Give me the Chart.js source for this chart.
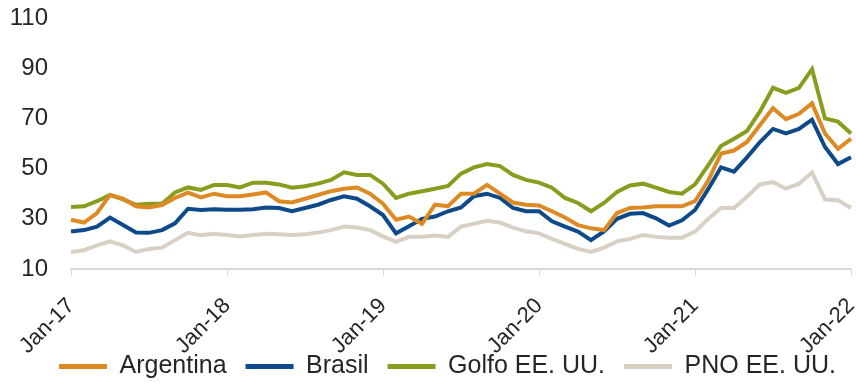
<!DOCTYPE html>
<html>
<head>
<meta charset="utf-8">
<script src="https://cdn.jsdelivr.net/npm/chart.js@4"></script>
<style>
  body { margin: 0; background: #fff; }
  #wrap { width: 856px; height: 389px; }
</style>
</head>
<body>
<div id="wrap"><canvas id="chart"></canvas></div>
<script>
// monthly categories Jan-17 .. Jan-22
var monthNames = ["Jan", "Feb", "Mar", "Apr", "May", "Jun", "Jul", "Aug", "Sep", "Oct", "Nov", "Dec"];
var years = ["17", "18", "19", "20", "21", "22"];
var labels = [];
years.forEach(function(yy){
    monthNames.forEach(function(mm){
        if (labels.length < 61) labels.push(mm + "-" + yy);
    });
});

var argentina = [29.6, 28.5, 32.3, 39.5, 38.0, 35.0, 34.5, 35.5, 38.3, 40.4, 38.5, 40.0,
                 39.0, 39.0, 39.7, 40.5, 37.0, 36.5, 38.0, 39.5, 41.0, 42.0, 42.5, 40.0,
                 36.0, 29.6, 30.9, 28.0, 35.6, 35.0, 40.0, 40.0, 43.5, 40.0, 36.5, 35.6,
                 35.3, 33.0, 30.5, 27.5, 26.2, 25.5, 32.3, 34.3, 34.5, 35.0, 35.0, 35.0,
                 37.0, 45.0, 56.0, 57.2, 60.6, 67.4, 74.1, 69.7, 71.8, 76.0, 64.0, 57.9,
                 61.9];
var brasil = [24.9, 25.5, 26.9, 30.5, 27.5, 24.5, 24.4, 25.5, 28.2, 34.0, 33.5, 33.8,
              33.6, 33.6, 33.8, 34.5, 34.3, 33.0, 34.3, 35.6, 37.5, 39.0, 38.0, 35.0,
              31.5, 24.2, 27.0, 30.0, 30.9, 33.0, 34.5, 39.0, 40.0, 38.3, 34.3, 33.0,
              33.0, 29.0, 26.9, 24.9, 21.5, 25.0, 30.0, 32.0, 32.3, 30.2, 27.3, 29.4,
              33.5, 41.7, 50.5, 48.8, 54.5, 60.6, 65.8, 64.0, 65.8, 69.5, 58.6, 51.8,
              54.5];
var golfo = [34.7, 35.0, 37.0, 39.5, 37.7, 35.6, 36.0, 36.0, 40.5, 42.5, 41.5, 43.5,
             43.5, 42.5, 44.4, 44.4, 43.7, 42.4, 43.0, 44.0, 45.5, 48.5, 47.5, 47.5,
             44.0, 38.3, 40.0, 41.0, 42.0, 43.1, 48.0, 50.5, 51.8, 51.0, 47.5, 45.5,
             44.4, 42.4, 38.3, 36.3, 33.0, 36.3, 40.7, 43.3, 44.0, 42.4, 40.7, 40.0,
             43.7, 51.2, 59.0, 61.9, 65.0, 72.8, 82.2, 80.2, 82.2, 89.6, 70.0, 68.7,
             64.0];
var pno = [16.8, 17.5, 19.4, 21.0, 19.4, 16.8, 18.0, 18.5, 21.5, 24.4, 23.5, 24.0,
           23.5, 23.0, 23.5, 24.0, 23.8, 23.5, 23.8, 24.5, 25.5, 26.9, 26.5, 25.5,
           23.0, 20.8, 22.8, 22.8, 23.3, 22.8, 26.9, 28.0, 29.2, 28.5, 26.5, 25.0,
           24.2, 22.0, 20.0, 18.0, 16.8, 18.5, 21.0, 22.0, 23.5, 22.8, 22.5, 22.5,
           24.9, 29.9, 34.3, 34.3, 38.8, 43.7, 44.6, 42.0, 44.0, 48.5, 37.7, 37.4,
           34.3];

var seriesNames = ["Argentina", "Brasil", "Golfo EE. UU.", "PNO EE. UU."];
var seriesColors = ["#DD8A24", "#0E4A8A", "#8A9C1E", "#D9D0C4"];
var seriesData = [argentina, brasil, golfo, pno];

var font = "Arial, 'Liberation Sans', sans-serif";

function noClip(){ return undefined; }

// the legend sits a little right of centre in the original
var legendShift = {
    id: "legendShift",
    afterLayout: function(chart){
        chart.legend.left += 22;
        chart.legend.right += 22;
    }
};

function getPriceChart(ctx){
    var datasets = seriesData.map(function(d, i){
        return {
            label: seriesNames[i],
            data: d,
            borderColor: seriesColors[i],
            backgroundColor: seriesColors[i],
            borderWidth: 4,
            pointRadius: 0,
            tension: 0
        };
    });
    var chart = new Chart(ctx, {
        type: "line",
        data: {
            labels: labels,
            datasets: datasets
        },
        plugins: [legendShift],
        options: {
            responsive: true,
            maintainAspectRatio: false,
            animation: false,
            layout: {
                padding: {top: 18, right: 5, left: 0, bottom: 0}
            },
            scales: {
                x: {
                    afterFit: function(scale){
                        scale.paddingLeft = 0;
                        scale.paddingRight = 0;
                        scale.height = 66;
                        // rotated labels run down beside the legend, don't clip them
                        scale._computeLabelArea = noClip;
                    },
                    grid: {
                        drawOnChartArea: false,
                        color: "#d9d9d9",
                        tickLength: 7
                    },
                    border: {color: "#d9d9d9", width: 2},
                    ticks: {
                        autoSkip: false,
                        minRotation: 45,
                        maxRotation: 45,
                        padding: 17,
                        color: "#262626",
                        font: {family: font, size: 22},
                        callback: function(value){
                            var l = this.getLabelForValue(value);
                            return l.indexOf("Jan") === 0 ? l : null;
                        }
                    }
                },
                y: {
                    min: 10,
                    max: 110,
                    afterFit: function(scale){
                        scale.width = 71;
                        scale.paddingTop = 0;
                        scale.paddingBottom = 0;
                    },
                    grid: {display: false, drawTicks: false},
                    border: {display: false},
                    ticks: {
                        stepSize: 20,
                        padding: 23,
                        color: "#262626",
                        font: {family: font, size: 24}
                    }
                }
            },
            plugins: {
                legend: {
                    position: "bottom",
                    labels: {
                        boxWidth: 48,
                        boxHeight: 5,
                        padding: 19,
                        color: "#262626",
                        font: {family: font, size: 25},
                        generateLabels: function(c){
                            var items = Chart.defaults.plugins.legend.labels.generateLabels(c);
                            items.forEach(function(it){ it.lineWidth = 0; });
                            return items;
                        }
                    }
                },
                tooltip: {enabled: false}
            }
        }
    });
    return chart;
}

getPriceChart(document.getElementById("chart"));
</script>
</body>
</html>
